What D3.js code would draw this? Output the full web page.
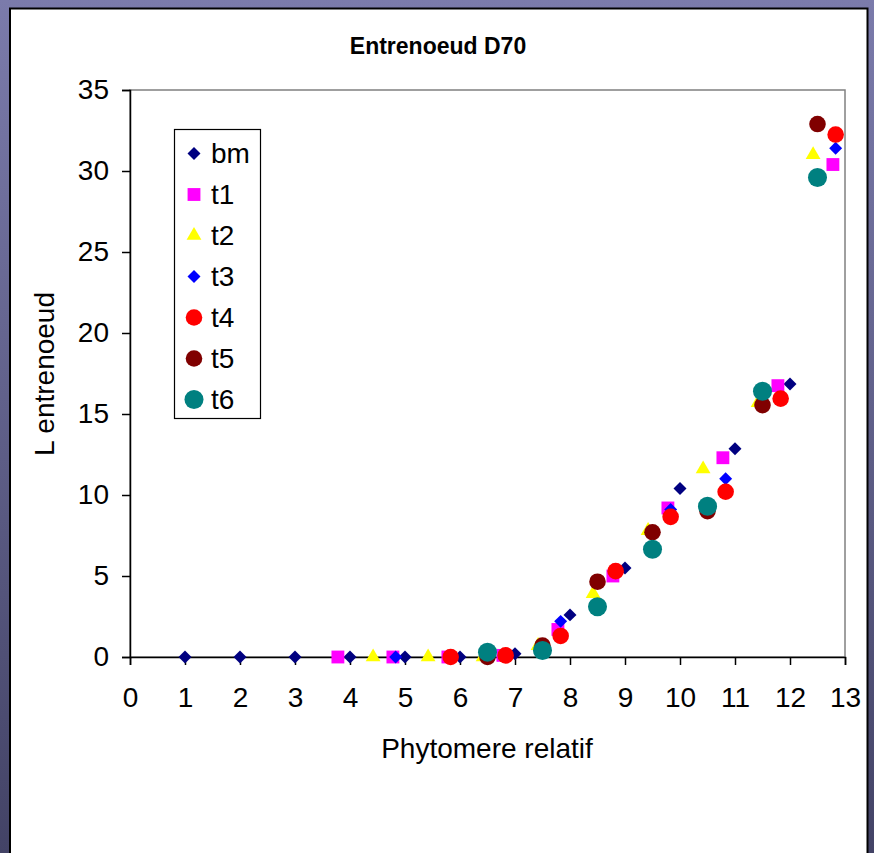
<!DOCTYPE html>
<html>
<head>
<meta charset="utf-8">
<script src="https://cdn.jsdelivr.net/npm/d3@7"></script>
<style>
  body { margin: 0; overflow: hidden; }
  svg text { font-family: "Liberation Sans", Arial, sans-serif; fill: #000; }
</style>
</head>
<body>
<div id="chart"></div>
<script>
// series data
var seriesNames = ["bm", "t1", "t2", "t3", "t4", "t5", "t6"];
var bmX = [1, 2, 3, 4, 5, 6, 7, 8, 9, 10, 11, 12];
var bmY = [0, 0, 0, 0, 0, 0, 0.2, 2.6, 5.5, 10.4, 12.85, 16.85];
var t1X = [3.78, 4.78, 5.78, 6.78, 7.78, 8.78, 9.78, 10.78, 11.78, 12.78];
var t1Y = [0, 0, 0, 0.1, 1.7, 5.0, 9.2, 12.3, 16.75, 30.4];
var t2X = [4.42, 5.42, 6.42, 7.42, 8.42, 9.42, 10.42, 11.42, 12.42];
var t2Y = [0, 0, 0, 0.7, 3.9, 7.8, 11.6, 15.7, 31.0];
var t3X = [4.83, 5.83, 6.83, 7.83, 8.83, 9.83, 10.83, 11.83, 12.83];
var t3Y = [0, 0, 0.1, 2.2, 5.2, 9.1, 11.0, 15.9, 31.4];
var t4X = [5.83, 6.83, 7.83, 8.83, 9.83, 10.83, 11.83, 12.83];
var t4Y = [0, 0.1, 1.3, 5.3, 8.65, 10.2, 15.95, 32.25];
var t5X = [6.5, 7.5, 8.5, 9.5, 10.5, 11.5, 12.5];
var t5Y = [0, 0.7, 4.65, 7.7, 9.0, 15.55, 32.9];
var t6X = [6.5, 7.5, 8.5, 9.5, 10.5, 11.5, 12.5];
var t6Y = [0.3, 0.4, 3.1, 6.65, 9.3, 16.4, 29.6];
var xTicks = d3.range(0, 14);
var yTicks = [0, 5, 10, 15, 20, 25, 30, 35];

var W = 874, H = 853;
var plot = {left: 130, right: 845, top: 90, bottom: 657};

// marker styles per series
var styles = {
  bm: {color: "#000080", shape: "diamond", size: 84},
  t1: {color: "#ff00ff", shape: "square", size: 165},
  t2: {color: "#ffff00", shape: "triangle", size: 95},
  t3: {color: "#0000ff", shape: "diamond", size: 84},
  t4: {color: "#ff0000", shape: "circle", size: 216},
  t5: {color: "#800000", shape: "circle", size: 216},
  t6: {color: "#008080", shape: "circle", size: 284}
};

var xsArr = [bmX, t1X, t2X, t3X, t4X, t5X, t6X];
var ysArr = [bmY, t1Y, t2Y, t3Y, t4Y, t5Y, t6Y];
var series = seriesNames.map((name, i) => ({
  name: name,
  points: xsArr[i].map((x, j) => ({x: x, y: ysArr[i][j]}))
}));

var svg = d3.select("#chart").append("svg")
  .attr("width", W)
  .attr("height", H);

// purple slide background
var defs = svg.append("defs");
var grad = defs.append("linearGradient")
  .attr("id", "bg")
  .attr("x1", 0).attr("y1", 0).attr("x2", 0).attr("y2", 1);
grad.append("stop").attr("offset", "0%").attr("stop-color", "#7b7bab");
grad.append("stop").attr("offset", "100%").attr("stop-color", "#434366");
svg.append("rect")
  .attr("width", W).attr("height", H)
  .attr("fill", "url(#bg)");

// white chart panel
svg.append("rect")
  .attr("x", 10).attr("y", 8.5)
  .attr("width", 857.5).attr("height", H)
  .attr("fill", "#fff")
  .attr("stroke", "#000")
  .attr("stroke-width", 2);

var xScale = d3.scaleLinear()
  .domain([0, 13])
  .range([plot.left, plot.right]);
var yScale = d3.scaleLinear()
  .domain([0, 35])
  .range([plot.bottom, plot.top]);

// plot area border
svg.append("rect")
  .attr("x", plot.left).attr("y", plot.top)
  .attr("width", plot.right - plot.left)
  .attr("height", plot.bottom - plot.top)
  .attr("fill", "none")
  .attr("stroke", "#808080")
  .attr("stroke-width", 1.5);

// axes
var xAxis = g => g
  .attr("transform", `translate(0, ${plot.bottom})`)
  .call(d3.axisBottom(xScale).tickValues(xTicks).tickSizeOuter(0).tickSize(8).tickPadding(22))
  .call(g => g.selectAll("text").style("font-size", "28px"))
  .call(g => g.selectAll("line, path").attr("stroke", "#000").attr("stroke-width", 1.5));
var yAxis = g => g
  .attr("transform", `translate(${plot.left}, 0)`)
  .call(d3.axisLeft(yScale).tickValues(yTicks).tickSizeOuter(0).tickSize(8).tickPadding(13))
  .call(g => g.selectAll("text").style("font-size", "28px"))
  .call(g => g.selectAll("line, path").attr("stroke", "#000").attr("stroke-width", 1.5));

svg.append("g").attr("class", "xaxis").call(xAxis);
svg.append("g").attr("class", "yaxis").call(yAxis);
svg.selectAll(".xaxis, .yaxis").attr("font-family", null);

var symbolFor = function(st) {
  var type = st.shape === "circle" ? d3.symbolCircle
    : st.shape === "triangle" ? d3.symbolTriangle
    : d3.symbolSquare;
  return d3.symbol().type(type).size(st.size)();
};
var rotFor = st => st.shape === "diamond" ? " rotate(45)" : "";

// markers
var pointsG = svg.append("g").attr("class", "points");
series.forEach(function(s) {
  var st = styles[s.name];
  pointsG.append("g")
    .attr("class", "series-" + s.name)
    .selectAll("path")
    .data(s.points)
    .enter()
      .append("path")
      .attr("d", symbolFor(st))
      .attr("fill", st.color)
      .attr("transform", d => "translate(" + xScale(d.x) + "," + yScale(d.y) + ")" + rotFor(st));
});

// titles
svg.append("text")
  .attr("x", 438).attr("y", 46)
  .attr("dy", "0.35em")
  .attr("text-anchor", "middle")
  .style("font-size", "23px")
  .style("font-weight", "bold")
  .text("Entrenoeud D70");
svg.append("text")
  .attr("x", 487).attr("y", 748)
  .attr("dy", "0.35em")
  .attr("text-anchor", "middle")
  .style("font-size", "28px")
  .text("Phytomere relatif");
svg.append("text")
  .attr("transform", "translate(44,374) rotate(-90)")
  .attr("dy", "0.35em")
  .attr("text-anchor", "middle")
  .style("font-size", "28px")
  .text("L entrenoeud");

// legend
var legend = svg.append("g").attr("class", "legend");
legend.append("rect")
  .attr("x", 174.5).attr("y", 129.5)
  .attr("width", 86).attr("height", 289)
  .attr("fill", "#fff")
  .attr("stroke", "#000")
  .attr("stroke-width", 1.2);
var rowY = d3.scalePoint().domain(seriesNames).range([153.5, 399.5]);
var items = legend.selectAll(".item")
  .data(series)
  .enter()
    .append("g")
    .attr("class", "item")
    .attr("transform", d => "translate(0," + rowY(d.name) + ")");
items.append("path")
  .attr("d", d => symbolFor(styles[d.name]))
  .attr("fill", d => styles[d.name].color)
  .attr("transform", d => "translate(194,0)" + rotFor(styles[d.name]));
items.append("text")
  .attr("x", 211)
  .attr("dy", "0.35em")
  .style("font-size", "28px")
  .text(d => d.name);
</script>
</body>
</html>
